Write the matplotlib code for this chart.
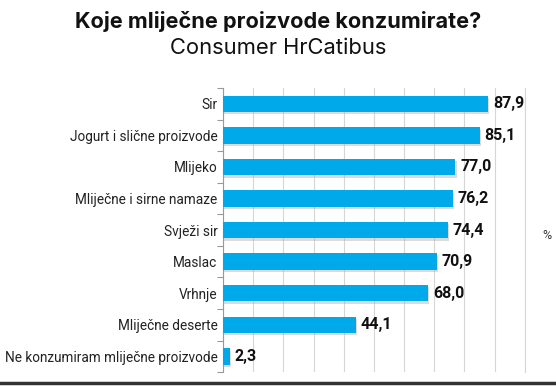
import matplotlib.pyplot as plt
import matplotlib.patheffects as pe
from matplotlib.lines import Line2D

categories = ["Sir", "Jogurt i slične proizvode", "Mlijeko", "Mliječne i sirne namaze",
              "Svježi sir", "Maslac", "Vrhnje", "Mliječne deserte",
              "Ne konzumiram mliječne proizvode"]
values = [87.9, 85.1, 77.0, 76.2, 74.4, 70.9, 68.0, 44.1, 2.3]
labels = ["87,9", "85,1", "77,0", "76,2", "74,4", "70,9", "68,0", "44,1", "2,3"]

fig = plt.figure(figsize=(5.56, 3.86), dpi=100)
ax = fig.add_axes([0.401, 0.036, 0.543, 0.736])

y = range(len(categories))
bars = ax.barh(y, values, height=0.52, color="#00aaea", zorder=3)
for b in bars:
    b.set_path_effects([pe.SimplePatchShadow(offset=(0.8, -1.8), shadow_rgbFace="#b0b0b0", alpha=0.45),
                        pe.Normal()])

for yi, v, lab in zip(y, values, labels):
    ax.text(v + 1.6, yi, lab, va="center", ha="left", fontsize=11.5,
            fontweight="bold", family="Roboto", color="#111111")

ax.set_xlim(0, 100)
ax.set_ylim(len(categories) - 0.5, -0.5)
ax.set_xticks(range(0, 101, 10))
ax.tick_params(axis="x", length=0, labelbottom=False)
ax.set_yticks(list(y))
ax.set_yticklabels(categories, family="Roboto", fontsize=9.8, color="#222222")
ax.tick_params(axis="y", length=0, pad=4)
# small ticks between categories
ax.set_yticks([i - 0.5 for i in range(len(categories) + 1)], minor=True)
ax.tick_params(axis="y", which="minor", length=4, color="#999999", width=0.8)

ax.grid(axis="x", color="#d6d6d6", linewidth=0.8, zorder=0)
for s in ["top", "bottom"]:
    ax.spines[s].set_visible(False)
ax.spines["right"].set_color("#d6d6d6")
ax.spines["left"].set_color("#999999")
ax.spines["left"].set_linewidth(0.8)

fig.text(0.5, 0.945, "Koje mliječne proizvode konzumirate?", ha="center", va="center",
         fontsize=15.6, fontweight="bold", family="Inter", color="#111111")
fig.text(0.5, 0.876, "Consumer HrCatibus", ha="center", va="center",
         fontsize=15.8, family="Inter", color="#111111")
fig.text(0.984, 0.39, "%", ha="center", va="center", fontsize=9, family="Roboto", color="#333333")

fig.add_artist(Line2D([0, 1], [0.008, 0.008], transform=fig.transFigure, color="#333333", linewidth=2.5))

fig.savefig("out.png", dpi=100)
